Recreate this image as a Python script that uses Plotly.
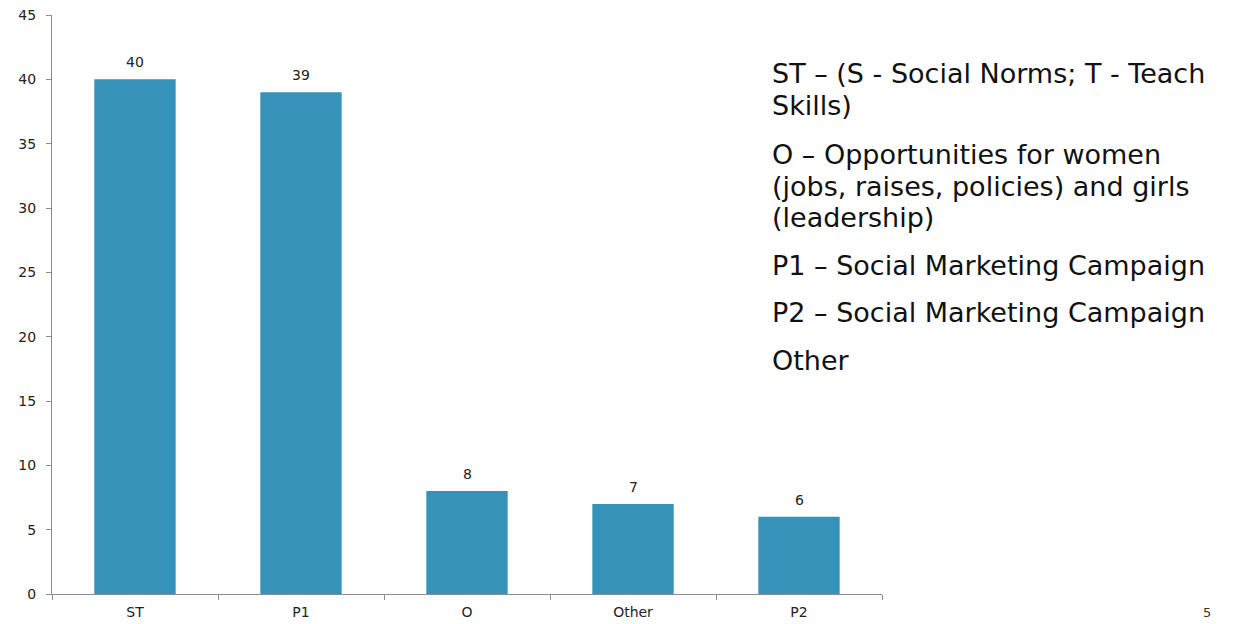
import plotly.graph_objects as go

categories = ["ST", "P1", "O", "Other", "P2"]
values = [40, 39, 8, 7, 6]
y_ticks = [0, 5, 10, 15, 20, 25, 30, 35, 40, 45]
note_lines = [
    "ST – (S - Social Norms; T - Teach",
    "Skills)",
    "O – Opportunities for women",
    "(jobs, raises, policies) and girls",
    "(leadership)",
    "P1 – Social Marketing Campaign",
    "P2 – Social Marketing Campaign",
    "Other",
]
note_y_px = [74, 106, 154, 186, 217, 265, 312, 360]

OFF = 8  # page body margin
W, H = 1233 - OFF, 624 - OFF
L, T = 52 - OFF, 15 - OFF
plot_right, plot_bottom = 882 - OFF, 594 - OFF
R, B = W - plot_right, H - plot_bottom
plot_w = W - L - R
plot_h = H - T - B

fig = go.Figure(go.Bar(
    x=categories, y=values, width=0.49,
    marker=dict(color="#3593BA", line=dict(width=0)),
    hoverinfo="x+y",
))

annotations = []
for c, v in zip(categories, values):
    annotations.append(dict(
        x=c, y=v, xref="x", yref="y", text=str(v), showarrow=False,
        xanchor="center", yanchor="bottom", yshift=7,
        font=dict(family="DejaVu Sans", size=14, color="#222"),
    ))
for line, ypx in zip(note_lines, note_y_px):
    annotations.append(dict(
        x=(770 - OFF - L) / plot_w, y=(plot_bottom - (ypx - OFF)) / plot_h,
        xref="paper", yref="paper",
        text=line, showarrow=False, xanchor="left", yanchor="middle",
        font=dict(family="DejaVu Sans", size=27, color="#111"),
    ))
annotations.append(dict(
    x=(1207 - OFF - L) / plot_w, y=(plot_bottom - (612 - OFF)) / plot_h,
    xref="paper", yref="paper",
    text="5", showarrow=False, xanchor="center", yanchor="middle",
    font=dict(family="DejaVu Sans", size=13, color="#333"),
))

fig.update_layout(
    width=W, height=H,
    margin=dict(l=L, r=R, t=T, b=B, pad=0, autoexpand=False),
    plot_bgcolor="white", paper_bgcolor="white",
    showlegend=False,
    annotations=annotations,
    xaxis=dict(
        automargin=False,
        showline=True, linecolor="#8c8c8c", linewidth=1,
        ticks="outside", tickson="boundaries", ticklen=5, tickcolor="#8c8c8c",
        ticklabelstandoff=5,
        showgrid=False, tickfont=dict(family="DejaVu Sans", size=14, color="#222"),
    ),
    yaxis=dict(
        automargin=False, ticklabeloverflow="allow",
        range=[0, 45], tickvals=y_ticks, showline=True, linecolor="#8c8c8c", linewidth=1,
        ticks="outside", ticklen=5, tickcolor="#8c8c8c", showgrid=False, zeroline=False,
        ticklabelstandoff=7,
        tickfont=dict(family="DejaVu Sans", size=14, color="#222"),
    ),
)

fig.write_html("out.html")
